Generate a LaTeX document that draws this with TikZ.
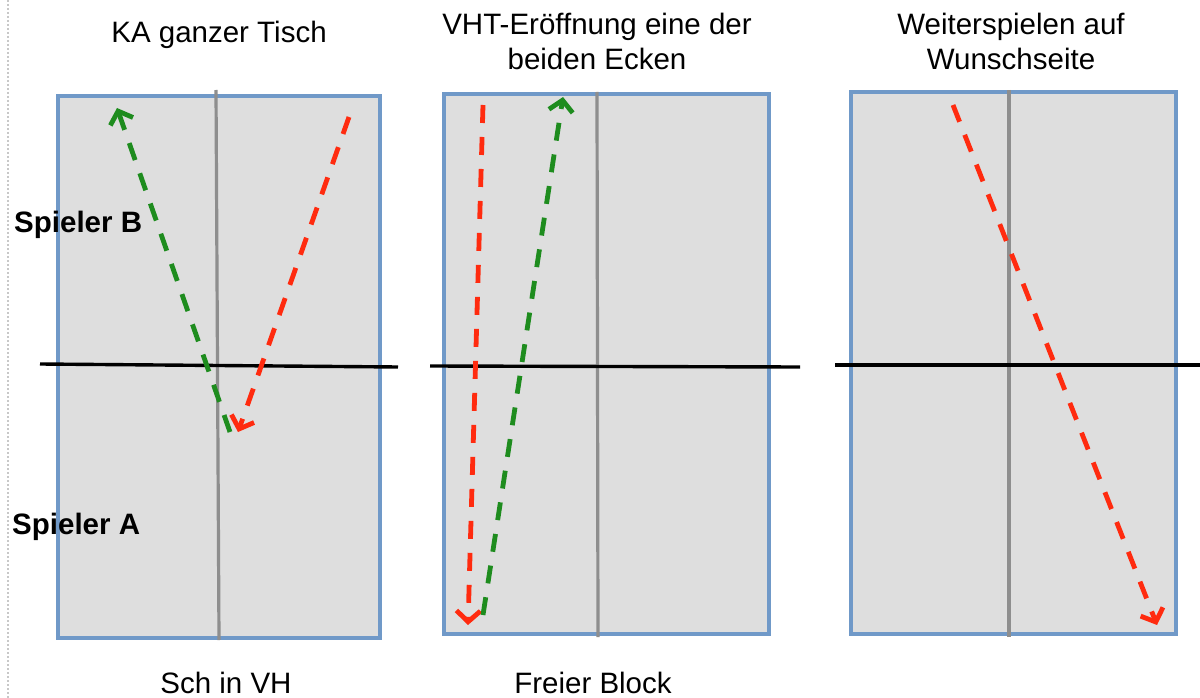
\documentclass[tikz,border=0pt]{standalone}
\usepackage{fontspec}
\setmainfont{Liberation Sans}
\usetikzlibrary{arrows.meta}
\definecolor{tablefill}{HTML}{DEDEDE}
\definecolor{tableedge}{HTML}{7099C8}
\definecolor{netgray}{HTML}{8E8E8E}
\definecolor{ballred}{HTML}{FF2B0F}
\definecolor{ballgreen}{HTML}{1E8C1E}
\definecolor{margingray}{HTML}{C8C8C8}
\begin{document}
\begin{tikzpicture}[x=1pt,y=-1pt,
  tabletop/.style={fill=tablefill,draw=tableedge,line width=3.2pt},
  net/.style={draw=netgray,line width=3.2pt},
  midline/.style={draw=black,line width=3.4pt},
  ball/.style={line width=4.8pt,dash pattern=on 18pt off 14pt,
    -{Straight Barb[length=11pt,width=24pt]}},
  caption/.style={font=\fontsize{29.5}{35.5}\selectfont,inner sep=0pt,anchor=base},
  player/.style={font=\fontsize{29.5}{35.5}\selectfont\bfseries,inner sep=0pt,anchor=base west}]
\useasboundingbox (0,0) rectangle (1200,698);
\fill[white] (0,0) rectangle (1200,698);

% dotted margin rule
\draw[margingray,line width=2.5pt,dash pattern=on 2pt off 2pt] (8,0) -- (8,698);

% table 1
\draw[tabletop] (58,96) rectangle (380,638);
\draw[net] (216,90) -- (219,640);
\draw[midline] (40,364) -- (398,367);

% table 2
\draw[tabletop] (444,94) rectangle (769,634);
\draw[net] (597,92) -- (598,637);
\draw[midline] (430,366) -- (800,367);

% table 3
\draw[tabletop] (851,92) rectangle (1176,634);
\draw[net] (1009,90) -- (1009,637);
\draw[midline] (835,365) -- (1200,365);

% ball paths
\coordinate (g1s) at (230,432); \coordinate (g1e) at (117,108);
\coordinate (r1s) at (349,117); \coordinate (r1e) at (238,432);
\coordinate (r2s) at (483,105); \coordinate (r2e) at (468,625);
\coordinate (g2s) at (483,615); \coordinate (g2e) at (563,97);
\coordinate (r3s) at (953,105); \coordinate (r3e) at (1157,625);

\draw[ball,ballgreen] (g1s) -- (g1e);
\draw[ball,ballred] (r1s) -- (r1e);
\draw[ball,ballred] (r2s) -- (r2e);
\draw[ball,ballgreen] (g2s) -- (g2e);
\draw[ball,ballred] (r3s) -- (r3e);

% captions
\node[caption] (t1) at (219,43) {KA ganzer Tisch};
\node[caption,align=center] (t2) at (597,70) {VHT-Eröffnung eine der\\beiden Ecken};
\node[caption,align=center] (t3) at (1011,70) {Weiterspielen auf\\Wunschseite};
\node[caption] (b1) at (226,693) {Sch in VH};
\node[caption] (b2) at (593,693) {Freier Block};
\node[player] (pb) at (14,232) {Spieler B};
\node[player] (pa) at (12,534) {Spieler A};
\end{tikzpicture}
\end{document}
